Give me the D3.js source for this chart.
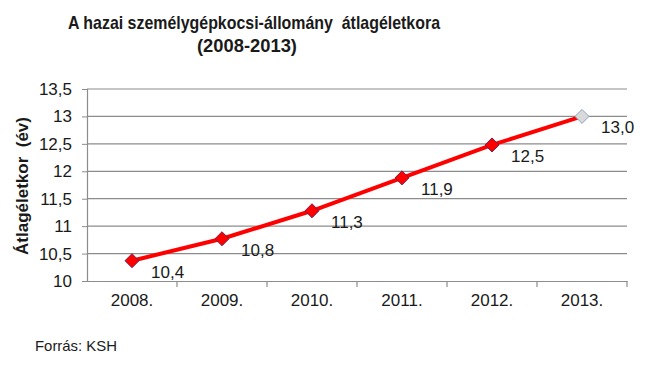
<!DOCTYPE html>
<html>
<head>
<script src="https://cdn.jsdelivr.net/npm/d3@7"></script>
<style>
  body { margin: 0; background: #fff; }
  text { font-family: "Liberation Sans", Arial, sans-serif; fill: #1a1a1a; white-space: pre; }
</style>
</head>
<body>
<script>
var years = ["2008.", "2009.", "2010.", "2011.", "2012.", "2013."];
var ages = [10.37, 10.77, 11.28, 11.88, 12.48, 13.0];
var estimated = [false, false, false, false, false, true];
var yTicks = [10, 10.5, 11, 11.5, 12, 12.5, 13, 13.5];

var width = 649, height = 367;
var margin = { left: 87, right: 22, top: 89, bottom: 86 };

var svg = d3.select("body").append("svg")
  .attr("width", width)
  .attr("height", height);

var x = d3.scaleBand().domain(years).range([margin.left, width - margin.right]);
var y = d3.scaleLinear().domain([10, 13.5]).range([height - margin.bottom, margin.top]);

var fmt = function(v) { return d3.format(".1f")(v).replace(".", ","); };

// gridlines
svg.append("g").selectAll("line")
  .data(yTicks.slice(1))
  .enter().append("line")
  .attr("x1", margin.left).attr("x2", width - margin.right)
  .attr("y1", function(d) { return y(d); }).attr("y2", function(d) { return y(d); })
  .attr("stroke", "#8c8c8c").attr("stroke-width", 1.2);

// y axis
var yAxis = svg.append("g")
  .attr("transform", "translate(" + margin.left + ",0)")
  .call(d3.axisLeft(y).tickValues(yTicks).tickSize(5).tickPadding(10)
    .tickFormat(function(d) { return String(d).replace(".", ","); }));
yAxis.select(".domain").attr("stroke", "#8c8c8c").attr("stroke-width", 1.2);
yAxis.selectAll(".tick line").attr("stroke", "#8c8c8c");
yAxis.selectAll("text").style("font-size", "17px").attr("fill", "#1a1a1a");

// x axis
var xAxis = svg.append("g")
  .attr("transform", "translate(0," + y(10) + ")")
  .call(d3.axisBottom(x).tickSize(0).tickPadding(13));
xAxis.select(".domain").attr("stroke", "#8c8c8c").attr("stroke-width", 1.2);
xAxis.selectAll("text").style("font-size", "17px").attr("fill", "#1a1a1a");
// category separators
xAxis.selectAll(".sep")
  .data(years)
  .enter().append("line")
  .attr("x1", function(d) { return x(d) + x.bandwidth(); })
  .attr("x2", function(d) { return x(d) + x.bandwidth(); })
  .attr("y1", 0).attr("y2", 6)
  .attr("stroke", "#8c8c8c").attr("stroke-width", 1.2);

var pts = years.map(function(d, i) { return { year: d, v: ages[i], est: estimated[i] }; });
var cx = function(d) { return x(d.year) + x.bandwidth() / 2; };

svg.append("path")
  .datum(pts)
  .attr("fill", "none")
  .attr("stroke", "#ff0000")
  .attr("stroke-width", 4)
  .attr("d", d3.line().x(cx).y(function(d) { return y(d.v); }));

svg.append("g").selectAll("path")
  .data(pts)
  .enter().append("path")
  .attr("d", d3.symbol().type(d3.symbolDiamond2).size(125))
  .attr("transform", function(d) { return "translate(" + cx(d) + "," + y(d.v) + ")"; })
  .attr("fill", function(d) { return d.est ? "#d9d9d9" : "#ff0000"; })
  .attr("stroke", function(d) { return d.est ? "#8ea3c4" : "#7a1e4a"; })
  .attr("stroke-width", 1);

svg.append("g").selectAll("text")
  .data(pts)
  .enter().append("text")
  .attr("x", function(d) { return cx(d) + 19; })
  .attr("y", function(d) { return y(d.v) + 11; })
  .attr("dy", "0.35em")
  .style("font-size", "17px")
  .text(function(d) { return fmt(d.v); });

// title
svg.append("text")
  .attr("x", 68).attr("y", 29)
  .attr("textLength", 372).attr("lengthAdjust", "spacingAndGlyphs")
  .style("font-size", "19px").style("font-weight", "bold")
  .text("A hazai személygépkocsi-állomány  átlagéletkora");
svg.append("text")
  .attr("x", 197).attr("y", 52)
  .attr("textLength", 100).attr("lengthAdjust", "spacingAndGlyphs")
  .style("font-size", "19px").style("font-weight", "bold")
  .text("(2008-2013)");

svg.append("text")
  .attr("transform", "translate(28,255) rotate(-90)")
  .attr("textLength", 138).attr("lengthAdjust", "spacingAndGlyphs")
  .style("font-size", "17px").style("font-weight", "bold")
  .text("Átlagéletkor  (év)");

svg.append("text")
  .attr("x", 35).attr("y", 351)
  .attr("textLength", 82).attr("lengthAdjust", "spacingAndGlyphs")
  .style("font-size", "15px")
  .text("Forrás: KSH");
</script>
</body>
</html>
